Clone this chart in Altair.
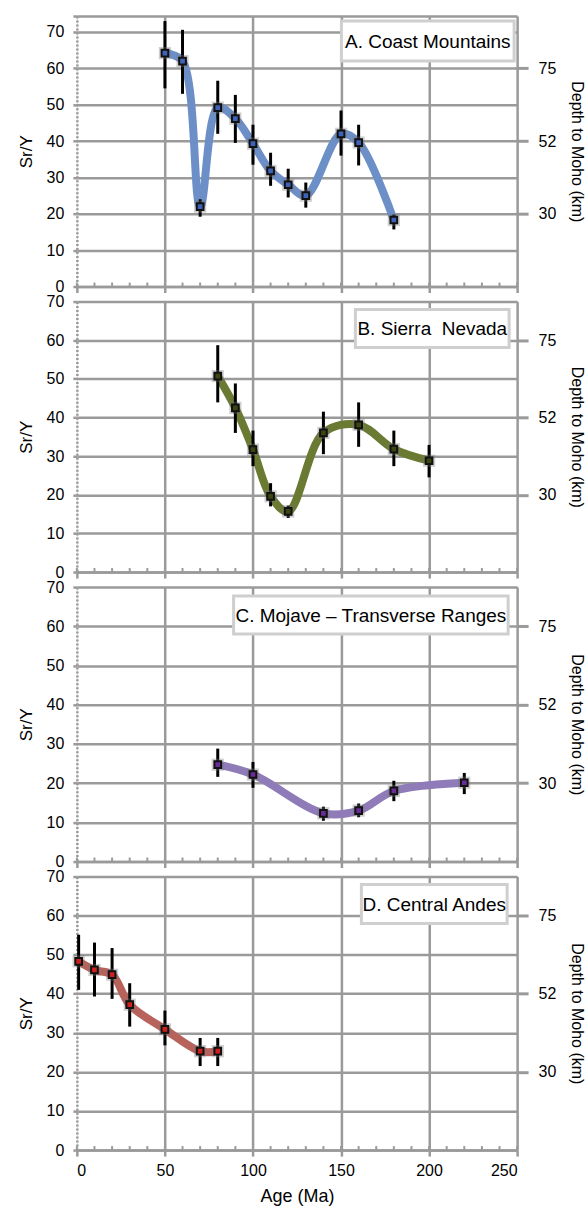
import altair as alt
import pandas as pd

# ---------------- data ----------------
panel_names = ["A. Coast Mountains", "B. Sierra \u00a0Nevada", "C. Mojave \u2013 Transverse Ranges", "D. Central Andes"]

a_age = [50, 60, 70, 80, 90, 100, 110, 120, 130, 150, 160, 180]
a_val = [64.2, 62.0, 22.0, 49.2, 46.2, 39.3, 31.8, 28.0, 25.0, 42.0, 39.6, 18.3]
a_hi = [73.0, 70.6, 24.0, 56.6, 52.7, 44.5, 36.8, 32.4, 28.6, 48.4, 44.5, 19.8]
a_lo = [54.5, 53.0, 19.2, 42.0, 39.5, 33.5, 27.7, 24.5, 21.7, 36.0, 33.3, 15.7]

b_age = [80, 90, 100, 110, 120, 140, 160, 180, 200]
b_val = [50.7, 42.5, 31.7, 19.6, 15.7, 36.0, 38.1, 31.8, 28.8]
b_hi = [58.7, 48.8, 36.6, 23.0, 17.2, 41.5, 43.9, 36.6, 32.9]
b_lo = [43.9, 36.0, 27.4, 17.0, 14.0, 30.5, 32.4, 27.4, 24.5]

c_age = [80, 100, 140, 160, 180, 220]
c_val = [24.7, 22.2, 12.3, 13.0, 18.0, 20.1]
c_hi = [28.8, 25.4, 14.0, 14.8, 20.6, 22.6]
c_lo = [21.6, 18.8, 10.4, 11.3, 15.4, 17.2]

d_age = [1, 10, 20, 30, 50, 70, 80]
d_val = [48.3, 46.1, 44.9, 37.2, 30.9, 25.3, 25.3]
d_hi = [55.1, 53.1, 51.7, 42.7, 35.7, 28.7, 28.7]
d_lo = [41.0, 39.3, 38.7, 31.6, 26.8, 21.5, 21.5]

x_ticks = [0, 50, 100, 150, 200, 250]
x_minor = list(range(0, 251, 10))
y_ticks = [0, 10, 20, 30, 40, 50, 60, 70]
depth_pos = [20, 40, 60]
depth_labels = ["30", "52", "75"]

# ---------------- style ----------------
GRID = "#9a9a9a"
FONT = "Liberation Sans"
W = 441

label_expr_depth = " : ".join(
    [f"datum.value == {p} ? '{l}'" for p, l in zip(depth_pos, depth_labels)]
) + " : ''"


def panel(name, ages, vals, his, los, line_color, marker_color, ymax, height,
          box, show_x):
    df = pd.DataFrame({"age": ages, "val": vals, "hi": his, "lo": los})
    xscale = alt.Scale(domain=[0, 250], nice=False, zero=False)
    yscale = alt.Scale(domain=[0, ymax], nice=False)
    yvals = list(y_ticks) + ([ymax] if ymax > 70 else [])

    x_axis = alt.Axis(
        values=x_ticks, grid=True, gridColor=GRID, gridWidth=2.5,
        gridDash={"condition": {"test": "datum.value === 0", "value": [2, 2]}, "value": []},
        domainColor=GRID, domainWidth=2.5, tickColor=GRID, tickWidth=2.5,
        tickSize=6, labels=show_x, labelFontSize=16, labelColor="black",
        labelPadding=6, title="Age (Ma)" if show_x else None, titleFontSize=18,
        titleFontWeight="normal", titleColor="black", titlePadding=10,
    )
    y_axis = alt.Axis(
        values=yvals, grid=True, gridColor=GRID, gridWidth=2.5,
        domain=False, tickColor=GRID, tickWidth=2.5, tickSize=4,
        labelFontSize=16, labelColor="black", labelPadding=9,
        labelExpr="datum.value > 70 ? '' : datum.label",
        title="Sr/Y", titleFontSize=17, titleFontWeight="normal",
        titleColor="black", titlePadding=11,
    )
    X = alt.X("age:Q", scale=xscale, axis=x_axis)
    Y = alt.Y("val:Q", scale=yscale, axis=y_axis)
    base = alt.Chart(df)

    line = base.mark_line(interpolate="catmull-rom", strokeWidth=8,
                          color=line_color).encode(x=X, y=Y)
    bars = base.mark_rule(color="black", strokeWidth=3).encode(
        x=X, y=alt.Y("lo:Q", scale=yscale, axis=y_axis), y2="hi:Q")
    halo = base.mark_square(size=150, color="#777", opacity=0.35).encode(x=X, y=Y)
    marks = base.mark_square(size=45, fill=marker_color, stroke="#111",
                             strokeWidth=2, opacity=1).encode(x=X, y=Y)
    minor = alt.Chart(pd.DataFrame({"t": x_minor})).mark_rule(
        color=GRID, strokeWidth=2).encode(
        x=alt.X("t:Q", scale=xscale, axis=x_axis),
        y=alt.value(height), y2=alt.value(height - 4))

    bx0, bx1, by0, by1 = box
    lab = alt.Chart(pd.DataFrame({"label": [name]}))
    rect = lab.mark_rect(fill="white", stroke="#cfcfcf", strokeWidth=3).encode(
        x=alt.value(bx0), x2=alt.value(bx1), y=alt.value(by0), y2=alt.value(by1))
    text = lab.mark_text(fontSize=19, font=FONT, color="black", align="center",
                         baseline="middle").encode(
        text="label:N", x=alt.value((bx0 + bx1) / 2), y=alt.value((by0 + by1) / 2 + 1))

    inner = alt.layer(line, bars, halo, marks, minor, rect, text)

    ddf = pd.DataFrame({"pos": depth_pos})
    right = alt.Chart(ddf).mark_point(opacity=0).encode(
        y=alt.Y("pos:Q", scale=yscale, axis=alt.Axis(
            orient="right", values=depth_pos, labelExpr=label_expr_depth,
            grid=False, domain=False, tickColor=GRID, tickWidth=3, tickSize=11,
            labelFontSize=16, labelColor="black", labelPadding=10,
            title="Depth to Moho (km)", titleFontSize=16, titleFontWeight="normal",
            titleColor="black", titlePadding=13, titleAngle=90)))

    return alt.layer(inner, right).resolve_scale(y="independent").properties(
        width=W, height=height)


pA = panel(panel_names[0], a_age, a_val, a_hi, a_lo, "#6d8fc7", "#3f63b8",
           74.4, 271, (265, 438, 5, 45), False)
pB = panel(panel_names[1], b_age, b_val, b_hi, b_lo, "#6b7a33", "#3a4710",
           70, 271, (279, 433, 8, 46), False)
pC = panel(panel_names[2], c_age, c_val, c_hi, c_lo, "#8e7bb8", "#6a2c96",
           70, 275, (157, 432, 9, 47), False)
pD = panel(panel_names[3], d_age, d_val, d_hi, d_lo, "#b8625c", "#d01f1f",
           70, 274, (285, 431, 8, 47), True)

chart = alt.vconcat(pA, pB, pC, pD, spacing=15, bounds="flush").configure_view(
    stroke=None).configure(
    font=FONT, padding={"left": 16, "top": 13, "right": 2, "bottom": 2})

chart.save("out.html", embed_options={"renderer": "svg", "actions": False})
